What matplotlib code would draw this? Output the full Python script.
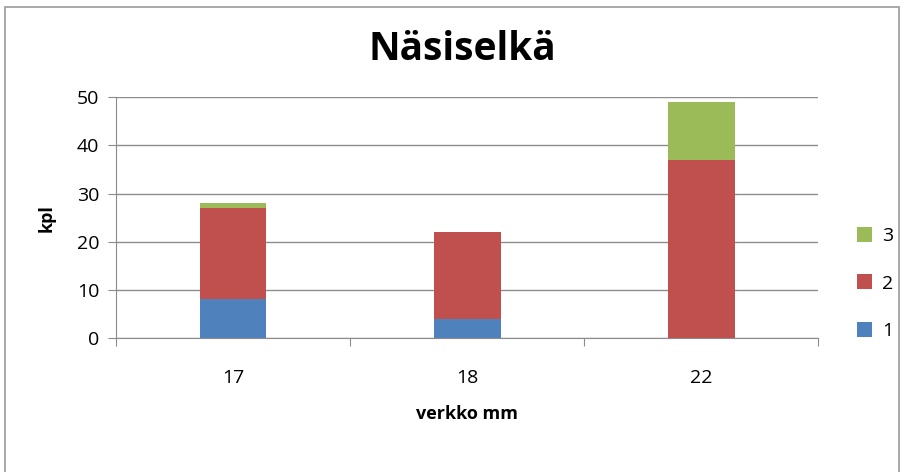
import matplotlib
matplotlib.use("Agg")
import matplotlib.pyplot as plt
from matplotlib.patches import Rectangle
import numpy as np

# chart data
categories = ["17", "18", "22"]
series_names = ["1", "2", "3"]
s1 = [8, 4, 0]
s2 = [19, 18, 37]
s3 = [1, 0, 12]
colors = ["#4F81BD", "#C0504D", "#9BBB59"]

plt.rcParams['font.family'] = ['Open Sans', 'DejaVu Sans']

fig = plt.figure(figsize=(9.06, 4.72), dpi=100)
ax = fig.add_axes([0.128, 0.284, 0.775, 0.51])

# outer chart border
fig.patches.append(Rectangle((0.006, -0.01), 0.986, 0.995, transform=fig.transFigure,
                             fill=False, edgecolor="#9a9a9a", linewidth=1.2))

x = np.arange(len(categories))
bottom = np.zeros(len(categories))
for name, vals, c in zip(series_names, [s1, s2, s3], colors):
    ax.bar(x, vals, width=0.286, bottom=bottom, color=c, label=name, zorder=3)
    bottom += np.array(vals)

ax.set_xlim(-0.5, 2.5)
ax.set_ylim(0, 50)
ax.set_yticks(range(0, 51, 10))
ax.yaxis.grid(True, color="#8c8c8c", linewidth=1.0, zorder=0)

# category boundaries as major ticks, labels on minor ticks
ax.set_xticks([-0.5, 0.5, 1.5, 2.5])
ax.set_xticklabels([])
ax.set_xticks(x, minor=True)
ax.set_xticklabels(categories, minor=True)
ax.tick_params(axis='x', which='major', length=6, color="#8c8c8c")
ax.tick_params(axis='x', which='minor', length=0, pad=22, labelsize=14)
ax.tick_params(axis='y', length=6, color="#8c8c8c", labelsize=14, pad=6)

for side in ["top", "right"]:
    ax.spines[side].set_visible(False)
for side in ["left", "bottom"]:
    ax.spines[side].set_color("#8c8c8c")

ax.set_title("Näsiselkä", fontsize=28, fontweight="bold", pad=27, x=0.493)
ax.set_ylabel("kpl", fontsize=13, fontweight="bold", labelpad=15)
ax.set_xlabel("verkko mm", fontsize=13, fontweight="bold", labelpad=13)

handles, labels = ax.get_legend_handles_labels()
ax.legend(handles[::-1], labels[::-1], loc="center left", bbox_to_anchor=(1.03, 0.226),
          frameon=False, fontsize=14, handlelength=0.8, handleheight=0.8,
          labelspacing=1.5, handletextpad=0.5)

fig.savefig("out.png", dpi=100)
